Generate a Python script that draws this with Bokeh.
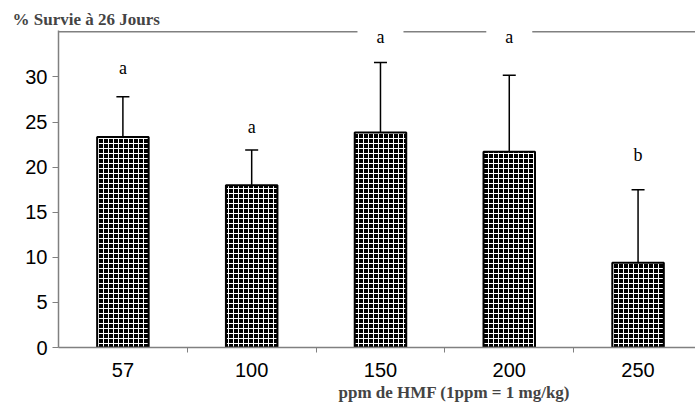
from bokeh.plotting import figure
from bokeh.models import (ColumnDataSource, FixedTicker, Range1d, Span, Label,
                          Whisker, TeeHead, Title)
from bokeh.embed import file_html
from bokeh.resources import INLINE

# ---- data ----
doses = ["57", "100", "150", "200", "250"]
survie = [23.35, 18.0, 23.85, 21.7, 9.4]
erreur = [4.45, 3.9, 7.75, 8.5, 8.1]
lettres = ["a", "a", "a", "a", "b"]
lettre_y = [31.0, 24.5, 34.4, 34.4, 21.3]
y_ticks = [0, 5, 10, 15, 20, 25, 30]
y_max = 35
titre = "% Survie à 26 Jours"
titre_x = "ppm de HMF (1ppm = 1 mg/kg)"

centres = [i + 0.5 for i in range(len(doses))]
limites = [i + 1 for i in range(len(doses) - 1)]
hauts = [s + e for s, e in zip(survie, erreur)]

src = ColumnDataSource(dict(x=centres, top=survie, upper=hauts, dose=doses))

p = figure(frame_width=637, frame_height=317, output_backend="svg",
           toolbar_location=None,
           x_range=Range1d(0, 4.946), y_range=Range1d(0, y_max + 0.15),
           min_border_left=58, min_border_right=0, min_border_top=30,
           min_border_bottom=56, title=None)
p.outline_line_color = None
p.background_fill_color = "white"
p.border_fill_color = "white"
p.xgrid.visible = False
p.ygrid.visible = False

# bars with a white grid pattern
p.vbar(x="x", top="top", width=0.4, bottom=0, source=src,
       fill_color="black", line_color="black", line_width=2,
       hatch_pattern="+", hatch_color="white", hatch_scale=5, hatch_weight=1)

# upward error bars
p.add_layout(Whisker(source=src, base="x", upper="upper", lower="top",
                     upper_head=TeeHead(size=13, line_color="black", line_width=1.5),
                     lower_head=None, line_color="black", line_width=1.5))

# top frame line
p.add_layout(Span(location=y_max, dimension="width", line_color="#808080",
                  line_width=1.5, level="underlay"))

# significance letters
for xc, yl, lt in zip(centres, lettre_y, lettres):
    p.add_layout(Label(x=xc, y=yl, text=lt, text_align="center",
                       text_baseline="middle", text_font="Liberation Serif",
                       text_font_size="18px", text_color="black",
                       background_fill_color="white",
                       padding=dict(left=19, right=19, top=3, bottom=3)))

# y axis
ya = p.yaxis[0]
ya.ticker = FixedTicker(ticks=y_ticks)
ya.axis_line_color = "#808080"
ya.axis_line_width = 1.5
ya.major_tick_line_color = "#808080"
ya.major_tick_in = 0
ya.major_tick_out = 6
ya.minor_tick_line_color = None
ya.major_label_text_font = "Liberation Sans"
ya.major_label_text_font_size = "20px"
ya.major_label_text_color = "black"
ya.major_label_standoff = 5

# x axis
xa = p.xaxis[0]
xa.ticker = FixedTicker(ticks=centres, minor_ticks=limites)
xa.major_label_overrides = {c: d for c, d in zip(centres, doses)}
xa.axis_line_color = "#808080"
xa.axis_line_width = 1.5
xa.major_tick_line_color = None
xa.major_tick_in = 0
xa.major_tick_out = 0
xa.minor_tick_line_color = "#808080"
xa.minor_tick_in = 0
xa.minor_tick_out = 5
xa.major_label_text_font = "Liberation Sans"
xa.major_label_text_font_size = "20px"
xa.major_label_text_color = "black"
xa.major_label_standoff = 10

# titles
p.add_layout(Title(text=titre, align="left", offset=-46,
                   text_font="Liberation Serif", text_font_style="bold",
                   text_font_size="17px", standoff=3), "above")
p.add_layout(Title(text=titre_x, align="left", offset=280,
                   text_font="Liberation Serif", text_font_style="bold",
                   text_font_size="17px", standoff=2), "below")

open("out.html", "w").write(file_html(p, INLINE))
